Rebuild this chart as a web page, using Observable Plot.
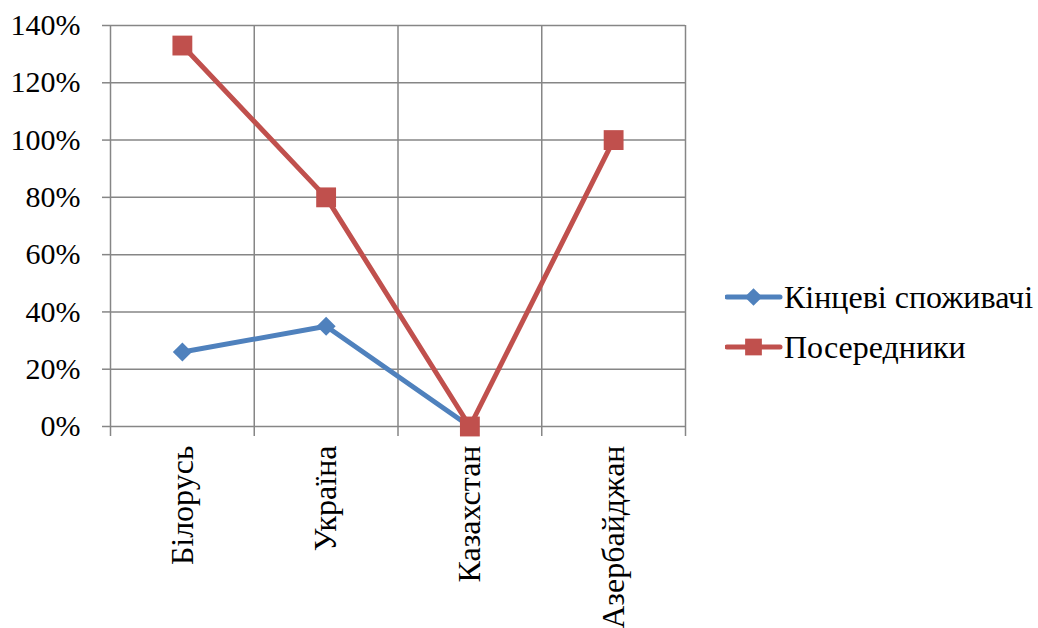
<!DOCTYPE html>
<html>
<head>
<meta charset="utf-8">
<script src="https://cdn.jsdelivr.net/npm/d3@7"></script>
<script src="https://cdn.jsdelivr.net/npm/@observablehq/plot@0.6"></script>
<style>
  body { margin: 0; background: #fff; }
  #chart { position: relative; width: 1038px; height: 628px; font-family: "Liberation Serif", serif; }
  #legend { position: absolute; left: 725px; top: 272px; font-family: "Liberation Serif", serif; font-size: 32px; color: #000; }
  #legend .item { display: flex; align-items: center; height: 50px; white-space: nowrap; }
  #legend svg { display: block; margin-right: 1px; }
</style>
</head>
<body>
<div id="chart"><div id="legend"></div></div>
<script>
// Categories and series
const countries = ["Білорусь", "Україна", "Казахстан", "Азербайджан"];
const endConsumers = [0.26, 0.35, 0, null];
const intermediaries = [1.33, 0.80, 0, 1.00];
const seriesNames = ["Кінцеві споживачі", "Посередники"];
const seriesColors = ["#4F81BD", "#C0504D"];
const seriesSymbols = ["diamond2", "square"];
const yTicks = [0, 0.2, 0.4, 0.6, 0.8, 1.0, 1.2, 1.4];

const seriesValues = [endConsumers, intermediaries];
const rows = seriesNames.flatMap((name, s) =>
  countries.map((country, i) => ({country, i, series: name, value: seriesValues[s][i]}))
);

// category boundaries (gridlines sit between the categories)
const bounds = d3.range(countries.length + 1).map(i => i - 0.5);
const grid = "#868686";
const markerR = {"diamond2": 8.6, "square": 11.2};

const chart = Plot.plot({
  width: 1038,
  height: 628,
  marginLeft: 110,
  marginRight: 353,
  marginTop: 25,
  marginBottom: 202,
  style: {fontSize: "30px", fontFamily: "Liberation Serif, serif", background: "white", color: "black"},
  x: {type: "linear", domain: [-0.5, countries.length - 0.5]},
  y: {domain: [0, 1.4]},
  color: {domain: seriesNames, range: seriesColors},
  symbol: {domain: seriesNames, range: seriesSymbols},
  marks: [
    Plot.gridY(yTicks, {stroke: grid, strokeOpacity: 1, strokeWidth: 1.5}),
    Plot.gridX(bounds, {stroke: grid, strokeOpacity: 1, strokeWidth: 1.5}),
    Plot.axisY(yTicks, {tickSize: 8, tickPadding: 22, stroke: grid, strokeWidth: 1.5, fontFamily: "Liberation Serif", tickFormat: d => Math.round(d * 100) + "%", label: null}),
    Plot.axisX(bounds, {tickSize: 10, stroke: grid, strokeWidth: 1.5, tickFormat: () => "", label: null}),
    Plot.axisX(d3.range(countries.length), {tickSize: 0, tickPadding: 19, tickRotate: -90, fontSize: 32, fontFamily: "Liberation Serif", tickFormat: i => countries[i], label: null}),
    Plot.line(rows, {x: "i", y: "value", z: "series", stroke: "series", strokeWidth: 5}),
    ...seriesNames.map((name, s) =>
      Plot.dot(rows.filter(d => d.series === name && d.value != null), {
        x: "i", y: "value", symbol: "series", fill: "series", r: markerR[seriesSymbols[s]]
      })
    )
  ]
});
document.getElementById("chart").prepend(chart);

// Legend to the right of the plot area
const legend = d3.select("#legend");
seriesNames.forEach((name, s) => {
  const item = legend.append("div").attr("class", "item");
  const svg = item.append("svg").attr("width", 58).attr("height", 30);
  svg.append("line").attr("x1", 2).attr("x2", 55).attr("y1", 15).attr("y2", 15)
    .attr("stroke", seriesColors[s]).attr("stroke-width", 5).attr("stroke-linecap", "round");
  const sym = s === 0 ? d3.symbolDiamond2 : d3.symbolSquare;
  svg.append("path").attr("transform", "translate(28.5,15)")
    .attr("d", d3.symbol(sym, s === 0 ? 200 : 280)())
    .attr("fill", seriesColors[s]);
  item.append("span").text(name);
});
</script>
</body>
</html>
